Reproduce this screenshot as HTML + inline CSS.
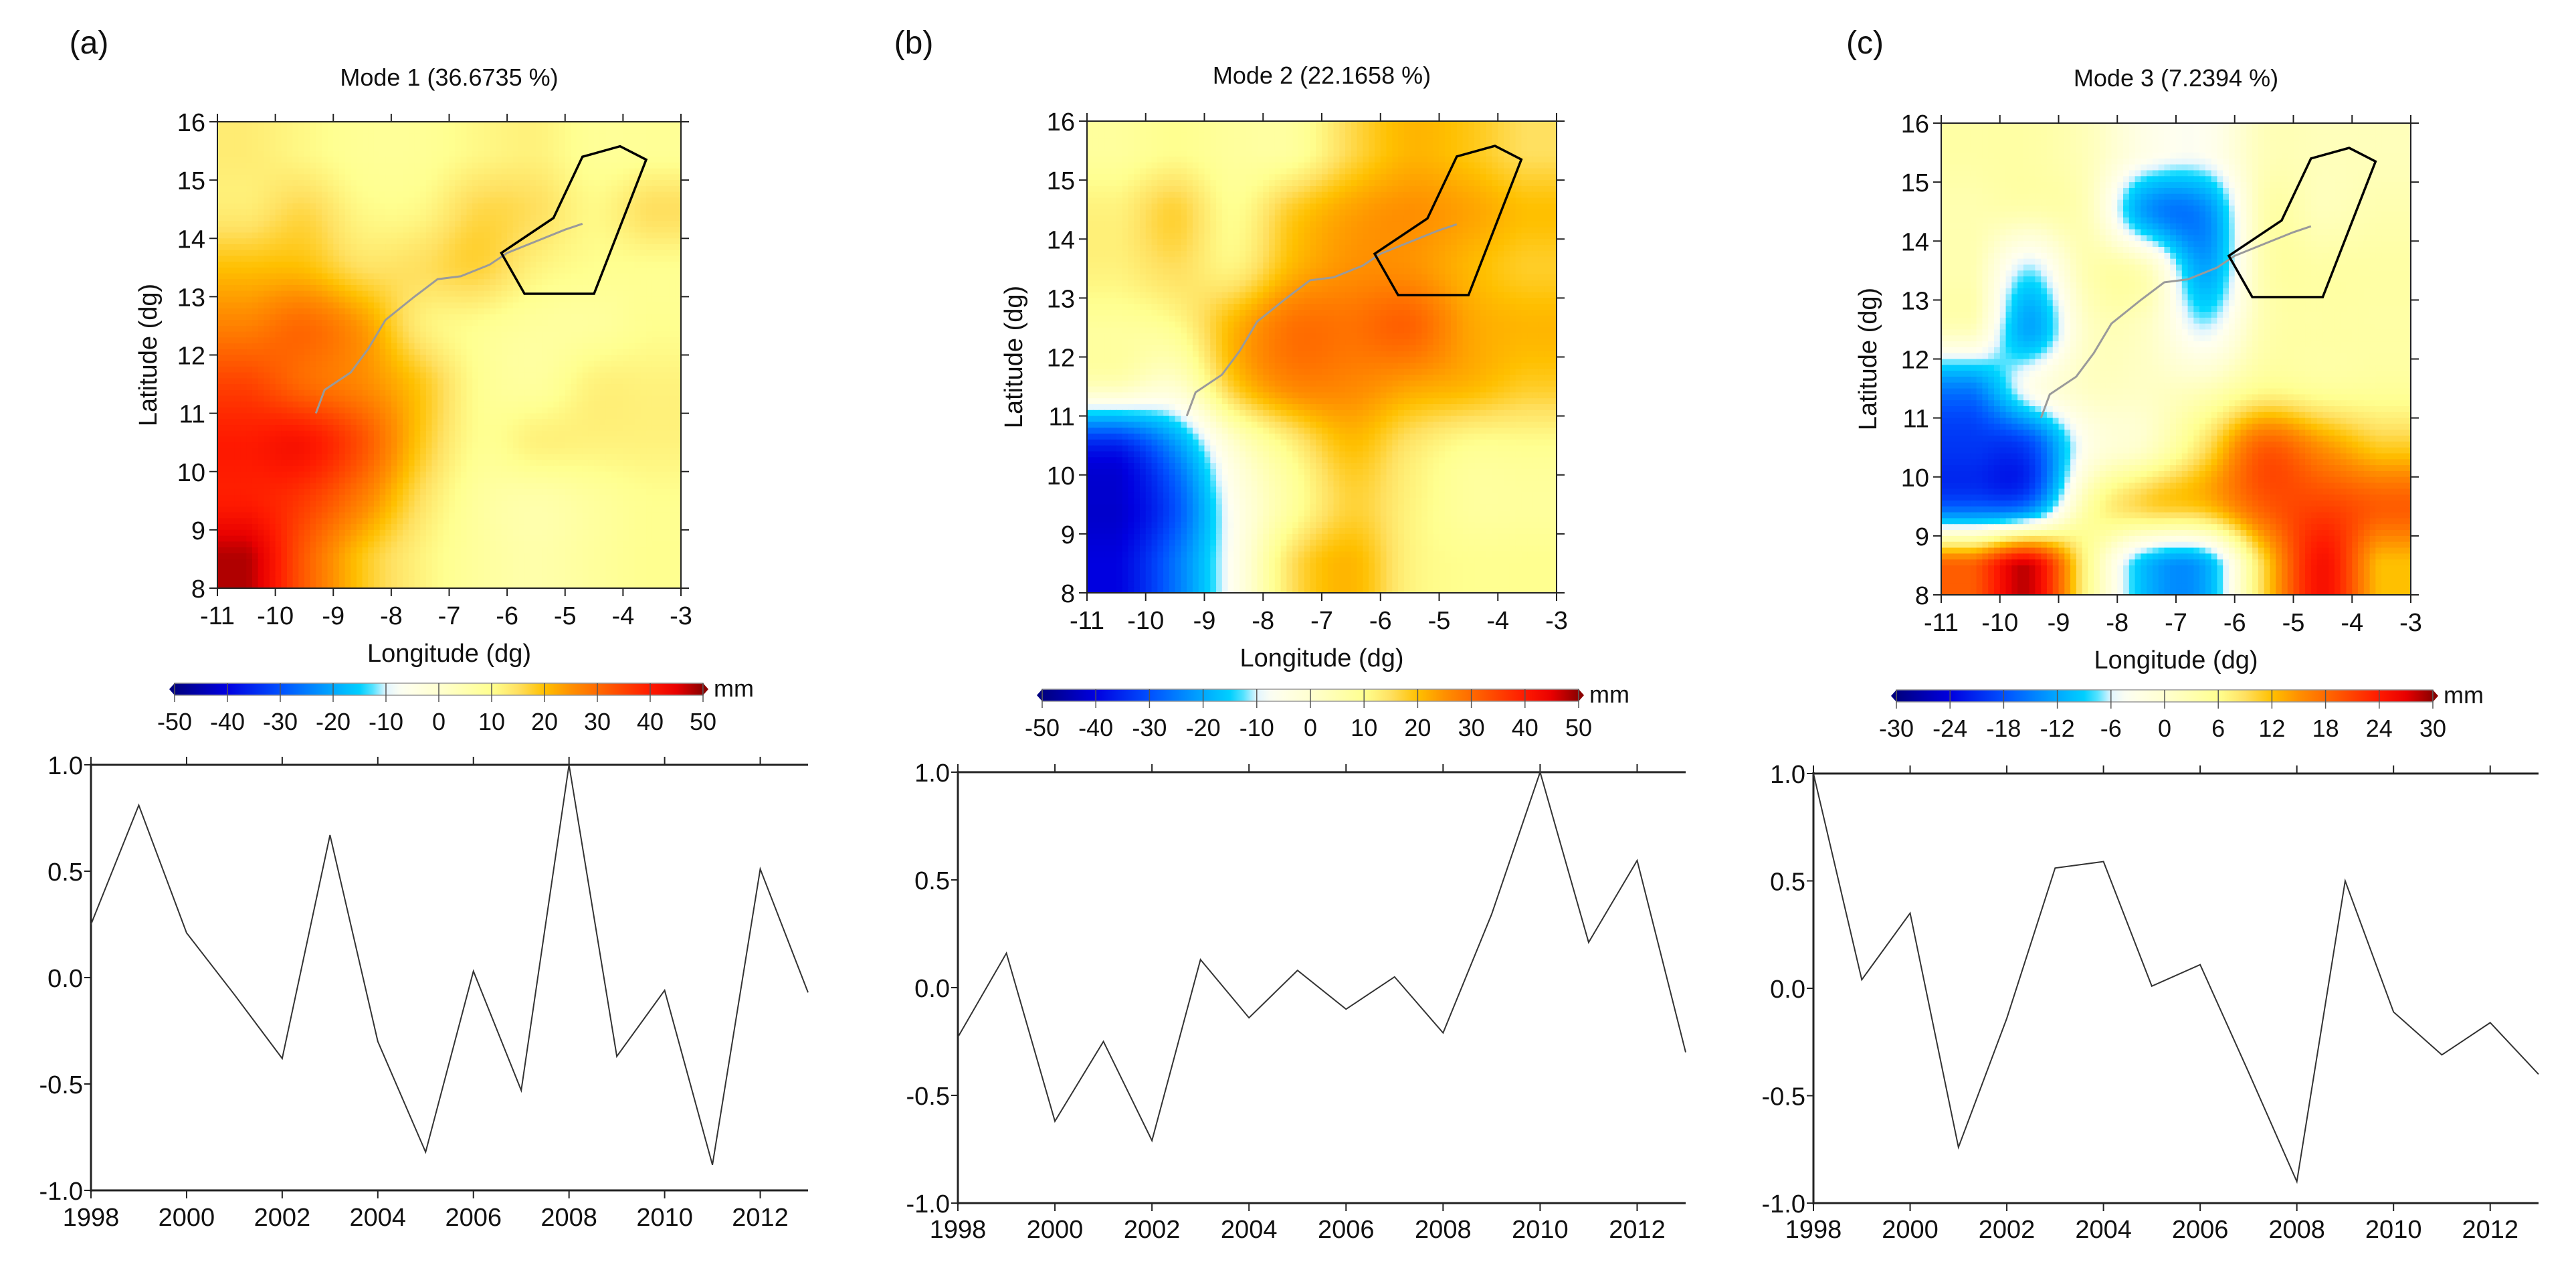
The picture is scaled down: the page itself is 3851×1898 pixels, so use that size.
<!DOCTYPE html>
<html><head><meta charset="utf-8">
<style>
html,body{margin:0;padding:0;background:#fff;}
svg text{font-family:"Liberation Sans",Arial,sans-serif;fill:#111;}
</style></head>
<body>
<svg id="fig" xmlns="http://www.w3.org/2000/svg" width="3851" height="1893" viewBox="0 0 3851 1893">
<defs>
<clipPath id="clipA"><rect x="325" y="182" width="693" height="697"/></clipPath>
<clipPath id="clipB"><rect x="1625" y="181" width="702" height="705"/></clipPath>
<clipPath id="clipC"><rect x="2902" y="184" width="702" height="705"/></clipPath>
</defs>
<g id="root"></g>
</svg>
<script>
// ---- data ----
const years = [1998,1999,2000,2001,2002,2003,2004,2005,2006,2007,2008,2009,2010,2011,2012,2013];
const pcA = [0.25,0.81,0.21,-0.08,-0.38,0.67,-0.30,-0.82,0.03,-0.53,1.0,-0.37,-0.06,-0.88,0.51,-0.07];
const pcB = [-0.23,0.16,-0.62,-0.25,-0.71,0.13,-0.14,0.08,-0.10,0.05,-0.21,0.34,1.0,0.21,0.59,-0.30];
const pcC = [1.0,0.04,0.35,-0.74,-0.14,0.56,0.59,0.01,0.11,-0.39,-0.90,0.50,-0.11,-0.31,-0.16,-0.40];
const yearTicks = [1998,2000,2002,2004,2006,2008,2010,2012];
const pcTicks = [1.0,0.5,0.0,-0.5,-1.0];
const lonTicks = [-11,-10,-9,-8,-7,-6,-5,-4,-3];
const latTicks = [8,9,10,11,12,13,14,15,16];
const cbLabelsAB = [-50,-40,-30,-20,-10,0,10,20,30,40,50];
const cbLabelsC = [-30,-24,-18,-12,-6,0,6,12,18,24,30];
// gridded EOF patterns, rows lat 15.5 -> 8.5, cols lon -10.5 -> -3.5
const fieldA = [
 [13,11,9,9,11,12,9,9],
 [13,16,11,11,16,15,11,15],
 [20,20,15,15,17,12,10,10],
 [27,30,24,13,10,8,8,10],
 [35,30,26,19,10,8,12,12],
 [40,41,33,19,10,12,12,12],
 [40,36,27,15,8,6,8,10],
 [48,32,19,12,8,6,8,10]];
const fieldB = [
 [8,10,8,8,16,21,19,15],
 [12,17,10,18,23,25,23,20],
 [12,15,12,21,25,25,21,18],
 [8,10,21,29,29,31,23,21],
 [3,0,18,26,26,23,21,18],
 [-36,-22,0,12,20,14,10,10],
 [-42,-30,-6,8,17,12,8,8],
 [-40,-26,-6,15,21,12,10,10]];
const fieldC = [
 [4,4,2,-3,-4,2,2,2],
 [3,3,2,-13,-14,3,2,3],
 [3,-7,3,2,-12,3,4,4],
 [2,-12,1,1,-6,3,4,4],
 [-15,-4,1,1,2,6,5,5],
 [-20,-19,-3,1,9,19,15,11],
 [-17,-15,4,10,12,19,21,19],
 [19,28,6,-11,-12,10,25,12]];
const boxLon = [-6.1,-5.2,-4.7,-4.05,-3.6,-4.5,-5.7];
const boxLat = [13.75,14.35,15.4,15.58,15.35,13.05,13.05];
const riverLon = [-9.3,-9.15,-8.7,-8.4,-8.1,-7.6,-7.2,-6.8,-6.3,-6.0,-5.5,-5.0,-4.7];
const riverLat = [11.0,11.4,11.7,12.1,12.6,13.0,13.3,13.35,13.55,13.75,13.95,14.15,14.25];

const NS = 'http://www.w3.org/2000/svg';
const root = document.getElementById('root');
function mk(tag, attrs, parent){
  const e = document.createElementNS(NS, tag);
  for (const k in attrs) e.setAttribute(k, attrs[k]);
  (parent||root).appendChild(e);
  return e;
}
const stops = [[-1,[0,0,128]],[-0.8,[0,0,224]],[-0.6,[0,80,255]],[-0.4,[0,168,255]],[-0.28,[0,215,255]],[-0.2,[225,245,255]],[-0.14,[255,255,240]],[0,[255,255,208]],[0.2,[255,255,144]],[0.3,[255,224,96]],[0.4,[255,192,0]],[0.5,[255,144,0]],[0.6,[255,106,0]],[0.8,[255,26,0]],[0.9,[232,0,0]],[1,[139,0,0]]];
function cmap(t){
  t=Math.max(-1,Math.min(1,t));
  for(let i=0;i<stops.length-1;i++){
    const a=stops[i],b=stops[i+1];
    if(t<=b[0]){const f=(t-a[0])/(b[0]-a[0]);
      const c=a[1].map((v,j)=>Math.round(v+(b[1][j]-v)*f));
      return 'rgb('+c.join(',')+')';}
  }
  return 'rgb(139,0,0)';
}
function cr(p0,p1,p2,p3,t){
  return 0.5*((2*p1)+(-p0+p2)*t+(2*p0-5*p1+4*p2-p3)*t*t+(-p0+3*p1-3*p2+p3)*t*t*t);
}
function sample(field, lon, lat){
  const gx = Math.max(0,Math.min(7,lon+10.5)), gy = Math.max(0,Math.min(7,15.5-lat));
  const i1=Math.min(6,Math.floor(gx)), j1=Math.min(6,Math.floor(gy));
  const fx=gx-i1, fy=gy-j1;
  const cl=v=>Math.max(0,Math.min(7,v));
  const rows=[];
  for(let dj=-1;dj<=2;dj++){
    const r=field[cl(j1+dj)];
    rows.push(cr(r[cl(i1-1)],r[i1],r[cl(i1+1)],r[cl(i1+2)],fx));
  }
  return cr(rows[0],rows[1],rows[2],rows[3],fy);
}

function mapPanel(p){
  const g = mk('g',{});
  
  
  const xs = lon => p.x0 + (lon+11)/8*(p.x1-p.x0);
  const ys = lat => p.y1 - (lat-8)/8*(p.y1-p.y0);
  const N=80, d=8/N;
  const cw=(p.x1-p.x0)/N, ch=(p.y1-p.y0)/N;
  const clipG = mk('g',{'clip-path':'url(#'+p.clip+')'},g);
  for(let r=0;r<N;r++){for(let c=0;c<N;c++){
    const lon=-11+(c+0.5)*d, lat=16-(r+0.5)*d;
    const v=sample(p.field,lon,lat);
    const cell=mk('rect',{x:(p.x0+c*cw).toFixed(2),y:(p.y0+r*ch).toFixed(2),width:(cw+0.8).toFixed(2),height:(ch+0.8).toFixed(2),fill:cmap(v/p.scale)},clipG);
    
    
  }}
  const river = mk('polyline',{points:riverLon.map((l,i)=>xs(l)+','+ys(riverLat[i])).join(' '),fill:'none',stroke:'#9a9a9a','stroke-width':3},clipG);
  
  
  const box = mk('polygon',{points:boxLon.map((l,i)=>xs(l)+','+ys(boxLat[i])).join(' '),fill:'none',stroke:'#000','stroke-width':3.5},g);
  
  
  mk('rect',{x:p.x0,y:p.y0,width:p.x1-p.x0,height:p.y1-p.y0,fill:'none',stroke:'#222','stroke-width':2},g);
  lonTicks.forEach(l=>{
    const x=xs(l);
    mk('line',{x1:x,y1:p.y1,x2:x,y2:p.y1+12,stroke:'#222','stroke-width':2},g);
    mk('line',{x1:x,y1:p.y0,x2:x,y2:p.y0-12,stroke:'#222','stroke-width':2},g);
    const t=mk('text',{x:x,y:p.y1+54,'font-size':38,'text-anchor':'middle'},g); t.textContent=l;
    
    
  });
  latTicks.forEach(l=>{
    const y=ys(l);
    mk('line',{x1:p.x0-12,y1:y,x2:p.x0,y2:y,stroke:'#222','stroke-width':2},g);
    mk('line',{x1:p.x1,y1:y,x2:p.x1+12,y2:y,stroke:'#222','stroke-width':2},g);
    const t=mk('text',{x:p.x0-18,y:y+14,'font-size':38,'text-anchor':'end'},g); t.textContent=l;
    
    
  });
  const tt=mk('text',{x:(p.x0+p.x1)/2,y:p.titleY,'font-size':36,'text-anchor':'middle'},g); tt.textContent=p.title;
  
  
  const lx=mk('text',{x:(p.x0+p.x1)/2,y:p.y1+110,'font-size':38,'text-anchor':'middle'},g); lx.textContent='Longitude (dg)';
  
  
  const ly=mk('text',{x:p.latX,y:(p.y0+p.y1)/2,'font-size':38,'text-anchor':'middle',transform:'rotate(-90 '+p.latX+' '+(p.y0+p.y1)/2+')',dy:13},g); ly.textContent='Latitude (dg)';
  
  
  const pl=mk('text',{x:p.lblX,y:80,'font-size':48,'text-anchor':'middle'},g); pl.textContent=p.lbl;
  
  
  // colorbar
  const cb = mk('g',{},g);
  
  
  const n=p.cbLabels.length-1, segW=(p.cb1-p.cb0)/n;
  const grad = mk('linearGradient',{id:'grad'+p.id,x1:p.cb0,x2:p.cb1,y1:0,y2:0,gradientUnits:'userSpaceOnUse'},cb);
  for(let i=0;i<=40;i++){mk('stop',{offset:i/40,'stop-color':cmap(-1+2*i/40)},grad);}
  mk('rect',{x:p.cb0,y:p.cbY,width:p.cb1-p.cb0,height:18,fill:'url(#grad'+p.id+')',stroke:'#999','stroke-width':1.5},cb);
  mk('polygon',{points:(p.cb0)+','+p.cbY+' '+(p.cb0-8)+','+(p.cbY+9)+' '+p.cb0+','+(p.cbY+18),fill:cmap(-1)},cb);
  mk('polygon',{points:(p.cb1)+','+p.cbY+' '+(p.cb1+8)+','+(p.cbY+9)+' '+p.cb1+','+(p.cbY+18),fill:cmap(1)},cb);
  p.cbLabels.forEach((v,i)=>{
    const x=p.cb0+i*segW;
    mk('line',{x1:x,y1:p.cbY,x2:x,y2:p.cbY+28,stroke:'#555','stroke-width':1.5},cb);
    const t=mk('text',{x:x,y:p.cbY+70,'font-size':36,'text-anchor':'middle'},cb); t.textContent=v;
    
    
  });
  const mm=mk('text',{x:p.cb1+16,y:p.cbY+20,'font-size':36},cb); mm.textContent='mm';
  
  
}

function tsPanel(p){
  const g = mk('g',{});
  
  
  const xs = yr => p.x0 + (yr-1998)/15*(p.x1-p.x0);
  const ys = v => p.y1 - (v+1)/2*(p.y1-p.y0);
  mk('line',{x1:p.x0,y1:p.y0,x2:p.x1,y2:p.y0,stroke:'#222','stroke-width':3},g);
  mk('line',{x1:p.x0,y1:p.y1,x2:p.x1,y2:p.y1,stroke:'#222','stroke-width':3},g);
  mk('line',{x1:p.x0,y1:p.y0-2,x2:p.x0,y2:p.y1+2,stroke:'#222','stroke-width':3},g);
  yearTicks.forEach(yr=>{
    const x=xs(yr);
    mk('line',{x1:x,y1:p.y0,x2:x,y2:p.y0-12,stroke:'#222','stroke-width':2},g);
    mk('line',{x1:x,y1:p.y1,x2:x,y2:p.y1+12,stroke:'#222','stroke-width':2},g);
    const t=mk('text',{x:x,y:p.yearY,'font-size':38,'text-anchor':'middle'},g); t.textContent=yr;
    
    
  });
  pcTicks.forEach(v=>{
    const y=ys(v);
    mk('line',{x1:p.x0-10,y1:y,x2:p.x0,y2:y,stroke:'#222','stroke-width':2},g);
    const t=mk('text',{x:p.x0-12,y:y+14,'font-size':38,'text-anchor':'end'},g); t.textContent=v.toFixed(1);
    
    
  });
  const line=mk('polyline',{points:years.map((yr,i)=>xs(yr)+','+ys(p.data[i])).join(' '),fill:'none',stroke:'#333','stroke-width':2},g);
  
  
}

mapPanel({id:'mode1',x0:325,y0:182,x1:1018,y1:879,field:fieldA,scale:50,clip:'clipA',title:'Mode 1 (36.6735 %)',titleY:128,latX:221,lbl:'(a)',lblX:133,cb0:261,cb1:1051,cbY:1021,cbLabels:cbLabelsAB});
mapPanel({id:'mode2',x0:1625,y0:181,x1:2327,y1:886,field:fieldB,scale:50,clip:'clipB',title:'Mode 2 (22.1658 %)',titleY:125,latX:1515,lbl:'(b)',lblX:1366,cb0:1558,cb1:2360,cbY:1030,cbLabels:cbLabelsAB});
mapPanel({id:'mode3',x0:2902,y0:184,x1:3604,y1:889,field:fieldC,scale:30,clip:'clipC',title:'Mode 3 (7.2394 %)',titleY:129,latX:2792,lbl:'(c)',lblX:2788,cb0:2835,cb1:3637,cbY:1031,cbLabels:cbLabelsC});
tsPanel({id:'pc1',x0:136,x1:1208,y0:1143,y1:1779,data:pcA,yearY:1832});
tsPanel({id:'pc2',x0:1432,x1:2520,y0:1154,y1:1798,data:pcB,yearY:1850});
tsPanel({id:'pc3',x0:2711,x1:3795,y0:1156,y1:1798,data:pcC,yearY:1850});
</script>
</body></html>
